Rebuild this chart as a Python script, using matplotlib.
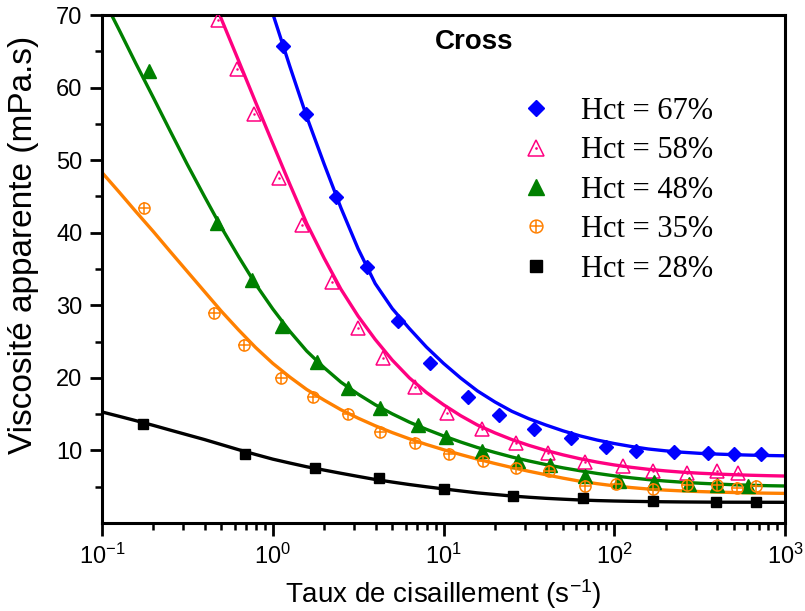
import numpy as np
import matplotlib
matplotlib.use("Agg")
import matplotlib.pyplot as plt
from matplotlib.legend_handler import HandlerTuple
from matplotlib.ticker import FixedLocator, LogLocator, NullFormatter

plt.rcParams["font.family"] = ["Liberation Sans", "DejaVu Sans"]
plt.rcParams["mathtext.fontset"] = "custom"
plt.rcParams["mathtext.rm"] = "Liberation Sans"
plt.rcParams["mathtext.it"] = "Liberation Sans:italic"
plt.rcParams["mathtext.bf"] = "Liberation Sans:bold"

labels = ["Hct = 67%", "Hct = 58%", "Hct = 48%", "Hct = 35%", "Hct = 28%"]

# measured apparent viscosity (mPa.s) vs shear rate (1/s)
shear_67 = [1.15, 1.56, 2.36, 3.55, 5.43, 8.34, 13.95, 21.1, 33.9, 55.6, 89.5, 134, 224, 356, 505, 723]
visc_67 = [65.7, 56.4, 44.9, 35.3, 27.9, 22.1, 17.4, 14.9, 13.0, 11.65, 10.5, 9.95, 9.8, 9.67, 9.49, 9.49]

shear_58 = [0.48, 0.62, 0.776, 1.09, 1.49, 2.23, 3.17, 4.41, 6.81, 10.5, 16.9, 26.6, 41.1, 67.4, 113, 169, 266, 402, 528]
visc_58 = [69.3, 62.5, 56.4, 47.6, 41.0, 33.2, 26.9, 22.7, 18.75, 15.1, 12.9, 11.0, 9.6, 8.4, 7.8, 7.1, 6.84, 7.2, 6.85]

shear_48 = [0.189, 0.473, 0.753, 1.14, 1.81, 2.77, 4.25, 7.11, 10.4, 16.7, 27.4, 42.1, 67.4, 106, 171, 275, 398, 610]
visc_48 = [62.3, 41.4, 33.5, 27.1, 22.2, 18.6, 15.9, 13.5, 11.85, 9.95, 8.55, 7.98, 6.5, 5.8, 5.6, 5.4, 5.2, 5.1]

shear_35 = [0.177, 0.453, 0.68, 1.12, 1.73, 2.77, 4.25, 6.81, 10.7, 17.1, 26.5, 41.5, 67.4, 103, 169, 268, 402, 521, 676]
visc_35 = [43.4, 29.0, 24.5, 20.0, 17.4, 15.0, 12.56, 10.96, 9.55, 8.55, 7.52, 7.18, 5.09, 5.34, 4.66, 5.2, 5.18, 4.77, 5.05]

shear_28 = [0.173, 0.69, 1.77, 4.2, 10.1, 25.4, 65.9, 169, 394, 676]
visc_28 = [13.7, 9.45, 7.6, 6.15, 4.68, 3.71, 3.5, 3.05, 2.84, 2.84]

# Cross model fitted curves, sampled every 0.1 decade
fit_shear = [0.1, 0.126, 0.158, 0.2, 0.251, 0.316, 0.398, 0.501, 0.631, 0.794,
             1.0, 1.26, 1.58, 2.0, 2.51, 3.16, 3.98, 5.01, 6.31, 7.94,
             10.0, 12.6, 15.8, 20.0, 25.1, 31.6, 39.8, 50.1, 63.1, 79.4,
             100.0, 126.0, 158.0, 200.0, 251.0, 316.0, 398.0, 501.0, 631.0, 794.0, 1000.0]
# 67 % curve starts at 1 s^-1, 58 % curve at 0.398 s^-1 (both leave the top of the axes)
fit_67 = [70.2, 62.9, 56.0, 49.46, 43.4, 37.8, 33.0, 29.55, 26.8, 24.25,
          22.0, 19.98, 18.2, 16.68, 15.4, 14.37, 13.5, 12.7, 12.0, 11.43,
          10.95, 10.54, 10.2, 9.945, 9.75, 9.6, 9.5, 9.415, 9.35, 9.3, 9.26]
fit_58 = [75.2, 69.4, 63.7, 57.97,
          52.3, 46.66, 41.3, 36.49, 32.2, 28.51, 25.3, 22.45, 20.0, 17.99,
          16.3, 14.79, 13.5, 12.42, 11.5, 10.7, 10.0, 9.39, 8.85, 8.39,
          8.0, 7.67, 7.4, 7.18, 7.0, 6.86, 6.75, 6.655, 6.58, 6.52, 6.47]
fit_48 = [72.6, 67.95, 63.3, 58.6, 54.0, 49.4, 45.0, 40.7, 36.7, 32.9,
          29.5, 26.4, 23.7, 21.4, 19.4, 17.76, 16.3, 15.04, 13.9, 12.91,
          12.0, 11.16, 10.4, 9.72, 9.1, 8.55, 8.05, 7.6, 7.2, 6.83,
          6.5, 6.22, 5.98, 5.78, 5.62, 5.48, 5.37, 5.27, 5.2, 5.14, 5.1]
fit_35 = [48.3, 45.6, 42.9, 40.15, 37.4, 34.65, 31.9, 29.16, 26.6, 24.18,
          22.0, 20.1, 18.4, 16.93, 15.6, 14.45, 13.4, 12.46, 11.6, 10.82,
          10.1, 9.43, 8.8, 8.2, 7.65, 7.13, 6.65, 6.18, 5.75, 5.42,
          5.12, 4.88, 4.68, 4.53, 4.42, 4.33, 4.26, 4.2, 4.15, 4.11, 4.08]
fit_28 = [15.3, 14.7, 14.1, 13.45, 12.8, 12.15, 11.5, 10.8, 10.1, 9.44,
          8.8, 8.26, 7.75, 7.29, 6.85, 6.42, 6.0, 5.64, 5.3, 4.99,
          4.7, 4.42, 4.15, 3.93, 3.72, 3.55, 3.4, 3.28, 3.17, 3.09,
          3.03, 2.985, 2.95, 2.923, 2.9, 2.884, 2.87, 2.864, 2.86, 2.855, 2.85]

c_blue, c_pink, c_green, c_orange, c_black = "#0000ff", "#ff0080", "#008000", "#ff8000", "#000000"

fig = plt.figure(figsize=(8.05, 6.11), dpi=100)
ax = fig.add_axes([102 / 805, 88 / 611, 683 / 805, 508 / 611])

lw = 2.4
line_kw = dict(lw=lw, solid_joinstyle="round", solid_capstyle="butt", zorder=2)
ax.plot(fit_shear[10:], fit_67, color=c_blue, **line_kw)
ax.plot(fit_shear[6:], fit_58, color=c_pink, **line_kw)
ax.plot(fit_shear, fit_48, color=c_green, **line_kw)
ax.plot(fit_shear, fit_35, color=c_orange, **line_kw)
ax.plot(fit_shear, fit_28, color=c_black, **line_kw)

h67, = ax.plot(shear_67, visc_67, ls="none", marker="D", ms=7, color=c_blue, mec=c_blue, zorder=3)
h58a, = ax.plot(shear_58, visc_58, ls="none", marker="^", ms=9.5, mfc="none", mec=c_pink, mew=1.1, zorder=3)
h58b, = ax.plot(shear_58, visc_58, ls="none", marker=".", ms=1.6, color=c_pink, zorder=3)
h48, = ax.plot(shear_48, visc_48, ls="none", marker="^", ms=9.5, color=c_green, mec=c_green, zorder=3)
h35a, = ax.plot(shear_35, visc_35, ls="none", marker="o", ms=8, mfc="none", mec=c_orange, mew=1.1, zorder=3)
h35b, = ax.plot(shear_35, visc_35, ls="none", marker="+", ms=8, mec=c_orange, mew=1.1, zorder=3)
h28, = ax.plot(shear_28, visc_28, ls="none", marker="s", ms=7, color=c_black, zorder=3)

ax.set_xscale("log")
ax.set_xlim(0.1, 1000)
ax.set_ylim(0, 70)
ax.yaxis.set_major_locator(FixedLocator([10, 20, 30, 40, 50, 60, 70]))
ax.yaxis.set_minor_locator(FixedLocator([5, 15, 25, 35, 45, 55, 65]))
ax.xaxis.set_major_locator(LogLocator(base=10, numticks=10))
ax.xaxis.set_minor_locator(LogLocator(base=10, subs=np.arange(2, 10), numticks=20))
ax.xaxis.set_minor_formatter(NullFormatter())

for s in ax.spines.values():
    s.set_linewidth(2.2)
ax.tick_params(which="major", direction="out", length=9, width=2.0, labelsize=17, pad=5,
               top=False, right=False)
ax.tick_params(which="minor", direction="out", length=5, width=1.8, top=False, right=False)
ax.tick_params(axis="x", which="major", pad=6)

ax.set_xlabel("Taux de cisaillement (s$^{-1}$)", fontsize=20, labelpad=6)
fig.text(24 / 805, 1 - 245 / 611, "Viscosité apparente (mPa.s)", rotation=90,
         ha="center", va="center", fontsize=24)

ax.text(474 / 805, 1 - 42 / 611, "Cross", transform=fig.transFigure, ha="center", va="center",
        fontsize=20, fontweight="bold")

leg = ax.legend([h67, (h58a, h58b), h48, (h35a, h35b), h28], labels,
                handler_map={tuple: HandlerTuple(ndivide=1, pad=0)},
                loc="upper left", bbox_to_anchor=(521 / 805, 1 - 97 / 611),
                bbox_transform=fig.transFigure, frameon=False,
                prop={"family": "Liberation Serif", "size": 22},
                handlelength=1.0, handletextpad=0.97, labelspacing=0.34,
                borderpad=0, borderaxespad=0, markerscale=1.15)

fig.savefig("out.png", dpi=100)
